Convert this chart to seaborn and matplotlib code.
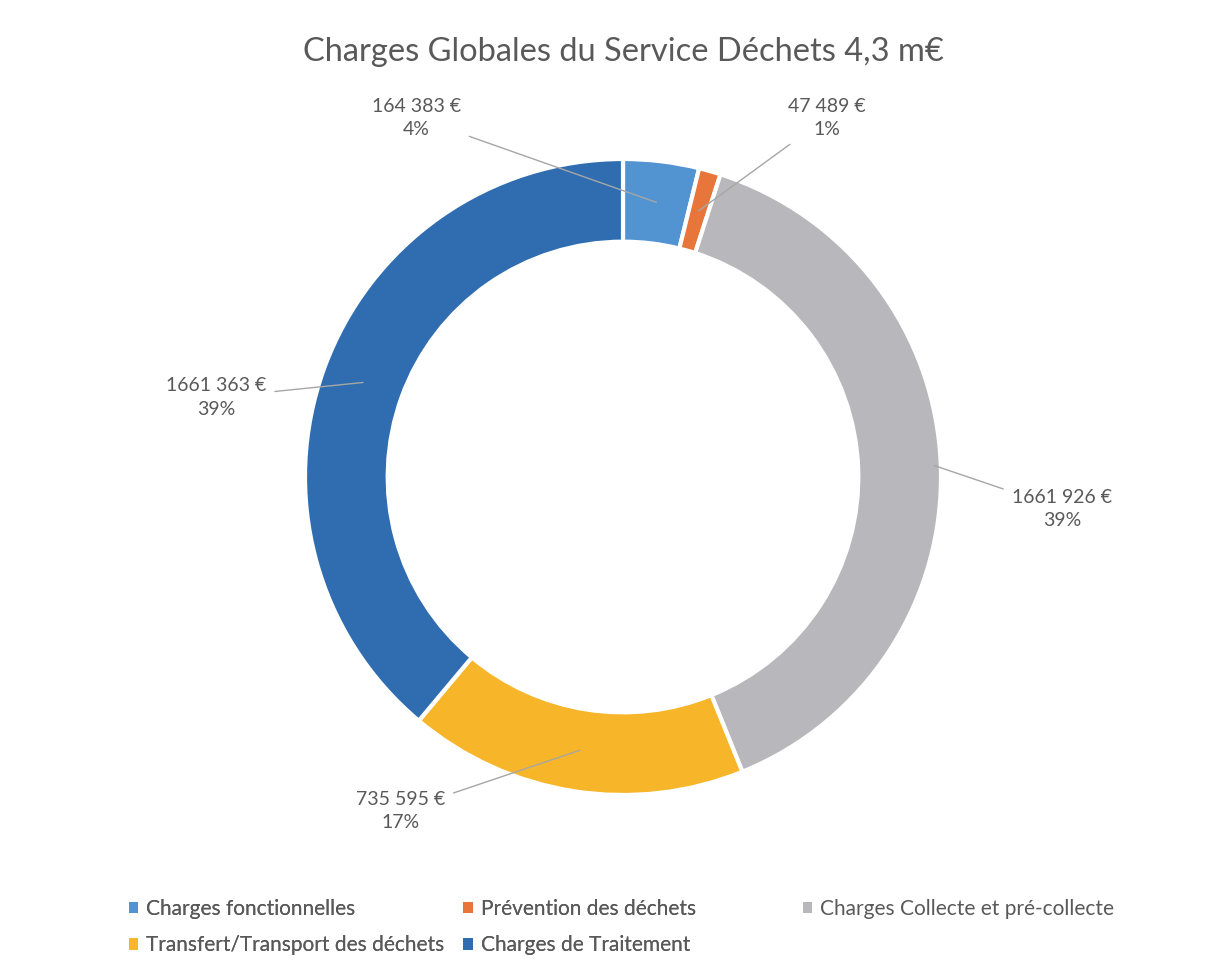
import matplotlib.pyplot as plt
import seaborn as sns
import numpy as np
from matplotlib.patches import Patch

# --- Données ---
categories = ['Charges fonctionnelles', 'Prévention des déchets', 'Charges Collecte et pré-collecte',
              'Transfert/Transport des déchets', 'Charges de Traitement']
montants = [164383, 47489, 1661926, 735595, 1661363]
couleurs = ['#5294d2', '#e8763a', '#b8b8bc', '#f7b529', '#2f6db0']
titre = 'Charges Globales du Service Déchets 4,3 m€'

# positions des étiquettes (coordonnées du graphique, rayon = 1)
pos_etiquettes = [(-0.65, 1.13), (0.64, 1.13), (1.38, -0.10), (-0.70, -1.05), (-1.28, 0.25)]
rayon_ligne = [0.87, 0.87, 0.98, 0.87, 0.87]

sns.set_theme(style="white")
plt.rcParams['font.family'] = ['Lato', 'DejaVu Sans']
gris_texte = '#595959'

fig = plt.figure(figsize=(12.23, 9.74), dpi=100)
# axe carré centré sur (623, 477) px, rayon 318 px
cx, cy, demi = 623, 477, 350
ax = fig.add_axes([(cx - demi) / 1223, 1 - (cy + demi) / 974, 2 * demi / 1223, 2 * demi / 974])

wedges, _ = ax.pie(montants, colors=couleurs, startangle=90, counterclock=False,
                   radius=1.0, wedgeprops=dict(width=0.26, edgecolor='white', linewidth=3))
lim = demi / 318
ax.set_xlim(-lim, lim)
ax.set_ylim(-lim, lim)
ax.set_aspect('equal')
ax.axis('off')

total = sum(montants)
for w, v, (tx, ty), r in zip(wedges, montants, pos_etiquettes, rayon_ligne):
    ang = np.deg2rad((w.theta1 + w.theta2) / 2)
    px, py = r * np.cos(ang), r * np.sin(ang)
    txt = f"{v // 1000} {v % 1000:03d} €\n{round(100 * v / total)}%"
    ax.annotate(txt, xy=(px, py), xytext=(tx, ty), ha='center', va='center',
                fontsize=14, color=gris_texte, linespacing=1.45, annotation_clip=False,
                arrowprops=dict(arrowstyle='-', color='#a6a6a6', lw=1, shrinkA=4, shrinkB=0))

fig.text(cx / 1223, 1 - 52 / 974, titre, ha='center', va='center', fontsize=23.5, color=gris_texte)

# --- Légende ---
handles = [Patch(facecolor=c, edgecolor='none') for c in couleurs]
ordre = [0, 3, 1, 4]
leg1 = fig.legend([handles[i] for i in ordre], [categories[i] for i in ordre], ncol=2,
                  loc='upper left', bbox_to_anchor=(110 / 1223, 1 - 880 / 974), frameon=False,
                  fontsize=15, handlelength=0.45, handleheight=0.45, handletextpad=0.4,
                  columnspacing=0.9, labelspacing=0.8, labelcolor=gris_texte)
leg2 = fig.legend([handles[2]], [categories[2]], loc='upper left',
                  bbox_to_anchor=(784 / 1223, 1 - 880 / 974), frameon=False,
                  fontsize=15, handlelength=0.45, handleheight=0.45, handletextpad=0.4,
                  labelcolor=gris_texte)
fig.add_artist(leg1)

plt.savefig('out.png', dpi=100, facecolor='white')
